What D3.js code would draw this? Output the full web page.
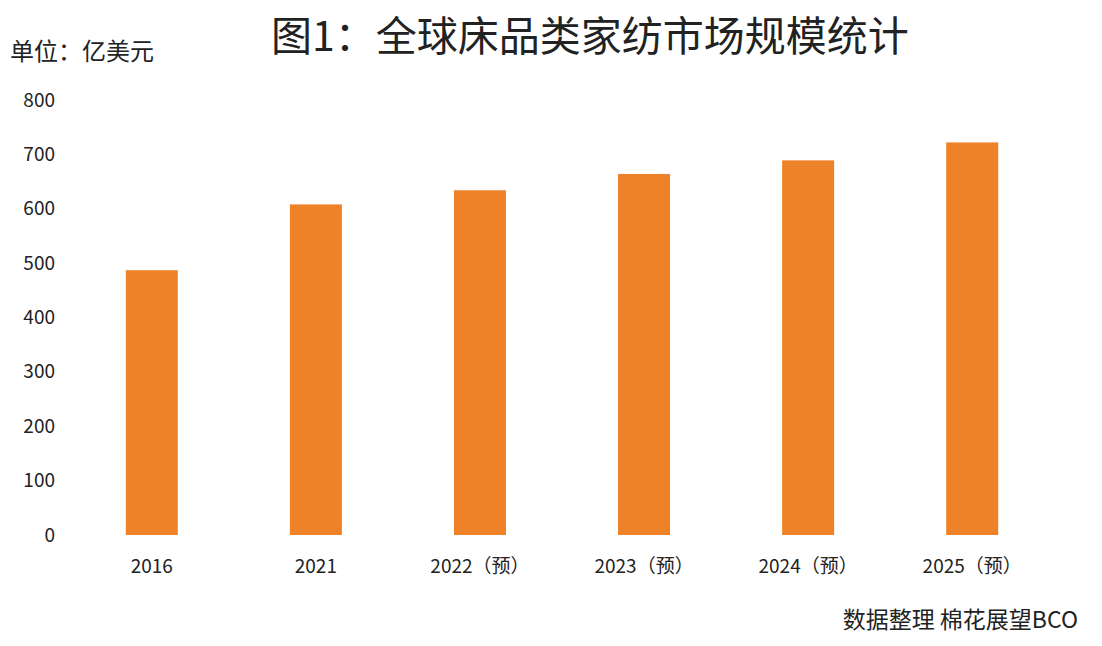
<!DOCTYPE html>
<html><head><meta charset="utf-8">
<script src="https://cdn.jsdelivr.net/npm/d3@7/dist/d3.min.js"></script>
<style>body{margin:0;background:#fff}</style></head>
<body><svg id="c" width="1102" height="646"></svg>
<script>
const categories=["2016","2021","2022（预）","2023（预）","2024（预）","2025（预）"];
const values=[487,608,634,664,689,722];
const yTicks=[0,100,200,300,400,500,600,700,800];
const font='"Noto Sans CJK SC","Noto Sans",sans-serif';
const svg=d3.select("#c");
const x=d3.scaleBand().domain(categories).range([70,1054]).paddingInner(0.683).paddingOuter(0.34);
const y=d3.scaleLinear().domain([0,800]).range([535,100]);
svg.append("g").selectAll("rect").data(values).join("rect")
 .attr("x",(d,i)=>x(categories[i])).attr("width",x.bandwidth())
 .attr("y",d=>y(d)).attr("height",d=>y(0)-y(d)).attr("fill","#ee8229");
const ya=svg.append("g").attr("transform","translate(55,0)").call(d3.axisLeft(y).tickValues(yTicks).tickSize(0).tickPadding(0));
ya.select(".domain").remove();
ya.selectAll("text").attr("font-size",19).attr("font-family",font).attr("fill","#222");
const xa=svg.append("g").attr("transform","translate(0,535)").call(d3.axisBottom(x).tickSize(0).tickPadding(25));
xa.select(".domain").remove();
xa.selectAll("text").attr("font-size",19).attr("font-family",font).attr("fill","#222");
svg.append("text").attr("x",590).attr("y",51).attr("text-anchor","middle").attr("font-size",41).attr("font-family",font).attr("fill","#222").text("图1：全球床品类家纺市场规模统计");
svg.append("text").attr("x",10).attr("y",60).attr("font-size",24).attr("font-family",font).attr("fill","#222").text("单位：亿美元");
svg.append("text").attr("x",1078).attr("y",628).attr("text-anchor","end").attr("font-size",23).attr("font-family",font).attr("fill","#222").text("数据整理 棉花展望BCO");
</script></body></html>
